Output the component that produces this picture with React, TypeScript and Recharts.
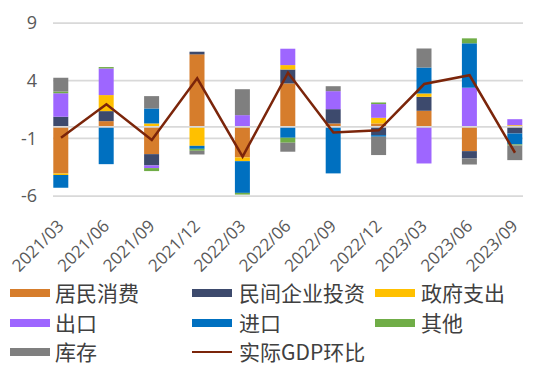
import { Bar, CartesianGrid, ComposedChart, Legend, Line, ReferenceLine, XAxis, YAxis } from "recharts"

const quarters = [
  "2021/03", "2021/06", "2021/09", "2021/12", "2022/03", "2022/06",
  "2022/09", "2022/12", "2023/03", "2023/06", "2023/09",
]

// contributions to q/q growth
const consumption = [-4.04, 0.49, -2.37, 6.28, -2.66, 3.76, 0.29, 0.29, 1.39, -2.11, 0]
const privateInvest = [0.87, 0.87, -0.98, 0.23, 0, 1.21, 1.24, -0.72, 1.21, -0.64, -0.58]
const government = [-0.15, 1.39, 0.29, -1.65, -0.32, 0.38, 0, 0.49, 0.29, 0, 0.14]
const exports = [2.03, 2.31, -0.23, 0, 1.01, 1.42, 1.56, 1.19, -3.18, 3.39, 0.52]
const imports = [-1.1, -3.24, 1.3, -0.26, -2.75, -0.95, -4.04, -0.14, 2.25, 3.85, -0.95]
const other = [0.15, 0.12, -0.26, -0.17, -0.15, -0.43, 0, 0.14, 0, 0.43, -0.09]
const inventory = [1.2, 0, 1.07, -0.32, 2.25, -0.78, 0.43, -1.59, 1.65, -0.52, -1.27]
const gdp = [-0.95, 1.95, -1.15, 4.2, -2.59, 4.69, -0.5, -0.3, 3.71, 4.47, -2.25]

const yTicks = [9, 4, -1, -6]

const series = [
  { key: "consumption", name: "居民消费", color: "#D67D2C", values: consumption },
  { key: "privateInvest", name: "民间企业投资", color: "#3D4A6D", values: privateInvest },
  { key: "government", name: "政府支出", color: "#FFC000", values: government },
  { key: "exports", name: "出口", color: "#9E66FF", values: exports },
  { key: "imports", name: "进口", color: "#0070C0", values: imports },
  { key: "other", name: "其他", color: "#70AD47", values: other },
  { key: "inventory", name: "库存", color: "#7F7F7F", values: inventory },
]
const lineColor = "#7B250A"

const data = quarters.map((q, i) => {
  const row: any = { idx: i, quarter: q, gdp: gdp[i] }
  series.forEach((s) => (row[s.key] = s.values[i]))
  return row
})

const legendItems = [
  ...series.map((s) => ({ name: s.name, color: s.color, line: false })),
  { name: "实际GDP环比", color: lineColor, line: true },
]

function QuarterTick({ x, y, payload }: any) {
  const ax = x + 4
  const ay = y + 31
  return (
    <text
      x={ax}
      y={ay}
      transform={`rotate(-45 ${ax} ${ay})`}
      textAnchor="end"
      fontSize={17}
      fill="#595959"
      fontFamily="'Open Sans', sans-serif"
    >
      {quarters[payload.value]}
    </text>
  )
}

function LegendBlock() {
  const swatchX = [10, 192, 375]
  const textX = [55, 239, 421]
  const rowY = [16, 46, 75]
  return (
    <div style={{ position: "relative", width: 550, height: 90 }}>
      {legendItems.map((it, i) => {
        const col = i % 3
        const row = Math.floor(i / 3)
        return (
          <div key={it.name}>
            <div
              style={{
                position: "absolute",
                left: swatchX[col],
                top: rowY[row] - (it.line ? 1 : 4),
                width: 40,
                height: it.line ? 2 : 8,
                background: it.color,
              }}
            />
            <div
              style={{
                position: "absolute",
                left: textX[col],
                top: rowY[row] - 15,
                fontSize: 21,
                lineHeight: "29px",
                color: "#404040",
                fontFamily: "'Noto Sans CJK SC', sans-serif",
                whiteSpace: "nowrap",
              }}
            >
              {it.name}
            </div>
          </div>
        )
      })}
    </div>
  )
}

export default function App() {
  return (
    <div style={{ width: 550, height: 367, background: "#fff" }}>
      <style>{"body{margin:0}"}</style>
      <ComposedChart
        width={550}
        height={367}
        data={data}
        stackOffset="sign"
        margin={{ top: 23, right: 27, bottom: 6, left: 0 }}
      >
        <CartesianGrid vertical={false} stroke="#D9D9D9" strokeWidth={1.75} />
        <XAxis
          dataKey="idx"
          type="number"
          domain={[0, 10]}
          ticks={quarters.map((_, i) => i)}
          padding={{ left: 8, right: 8 }}
          height={75}
          tick={<QuarterTick />}
          tickSize={0}
          tickMargin={0}
          axisLine={false}
          interval={0}
        />
        <YAxis
          domain={[-6, 9]}
          ticks={yTicks}
          width={53}
          tickSize={0}
          tickMargin={16}
          axisLine={false}
          tick={{ fontSize: 18, fill: "#595959", fontFamily: "'Open Sans', sans-serif" }}
        />
        <ReferenceLine y={0} stroke="#D9D9D9" strokeWidth={1.75} />
        {series.map((s) => (
          <Bar key={s.key} dataKey={s.key} name={s.name} stackId="a" fill={s.color} barSize={15} isAnimationActive={false} />
        ))}
        <Line
          dataKey="gdp"
          name="实际GDP环比"
          stroke={lineColor}
          strokeWidth={2.5}
          dot={false}
          type="linear"
          isAnimationActive={false}
        />
        <Legend
          verticalAlign="bottom"
          content={<LegendBlock />}
          wrapperStyle={{ left: 0, top: 277, width: 550, height: 90 }}
        />
      </ComposedChart>
    </div>
  )
}
